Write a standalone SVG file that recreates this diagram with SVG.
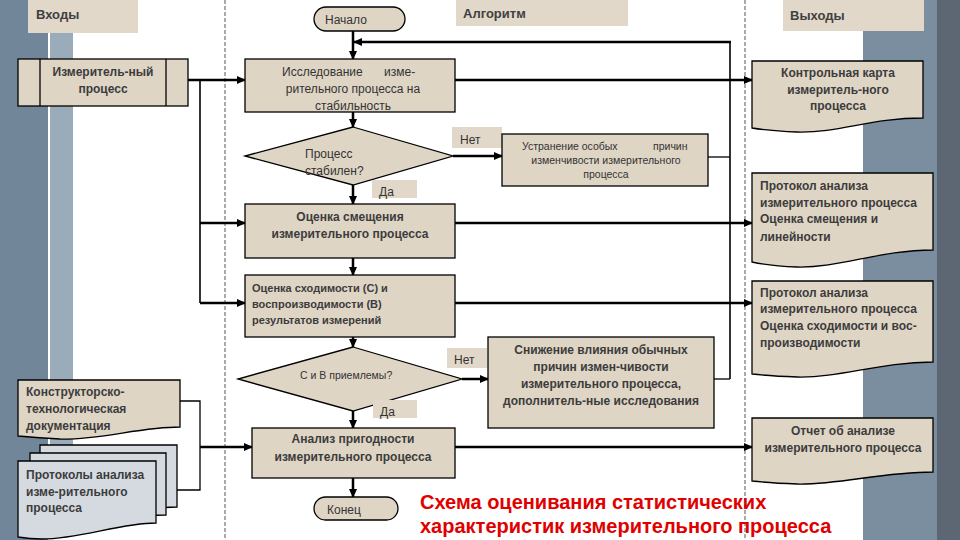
<svg xmlns="http://www.w3.org/2000/svg" width="960" height="540" viewBox="0 0 960 540">
<defs>
<marker id="ar" markerWidth="9" markerHeight="8" refX="8" refY="4" orient="auto" markerUnits="userSpaceOnUse">
<path d="M0,0 L9,4 L0,8 Z" fill="#000"/>
</marker>
<style>
.bx{fill:#dfd5c5;stroke:#000;stroke-width:1.3}
.doc2{fill:#d5dae1;stroke:#000;stroke-width:1.3}
.hd{fill:#e1d8c9}
.t{font-family:"Liberation Sans",Arial,sans-serif;font-size:12px;font-weight:bold;fill:#3c3c3c}
.n{font-weight:normal;fill:#333}
.ts{font-family:"Liberation Sans",Arial,sans-serif;font-size:10.5px;fill:#333}
.th{font-family:"Liberation Sans",Arial,sans-serif;font-size:13px;font-weight:bold;fill:#404040}
.c{text-anchor:middle}
.k{fill:none;stroke:#000;stroke-width:2.5}
.k1{fill:none;stroke:#000;stroke-width:1.3}
.a{marker-end:url(#ar)}
.dash{stroke:#555;stroke-width:1;stroke-dasharray:4 2}
.red{font-family:"Liberation Sans",Arial,sans-serif;font-size:20px;font-weight:bold;fill:#e00000}
</style>
</defs>
<rect width="960" height="540" fill="#fff"/>
<g id="background">
<rect x="0" y="0" width="48" height="540" fill="#718698"/>
<rect x="50" y="33" width="23" height="412" fill="#9aabb9"/>
<rect x="863" y="30" width="74" height="510" fill="#7a8ea0"/>
<rect x="923" y="0" width="14" height="30" fill="#7a8ea0"/>
<rect x="937" y="0" width="23" height="540" fill="#5d6673"/>
<line class="dash" x1="225" y1="0" x2="225" y2="540"/>
<line class="dash" x1="745" y1="0" x2="745" y2="540"/>
</g>
<g id="headers">
<rect class="hd" x="28" y="0" width="110" height="33"/>
<text class="th" x="36" y="19">Входы</text>
<rect class="hd" x="456" y="0" width="172" height="26"/>
<text class="th" x="463" y="18">Алгоритм</text>
<rect class="hd" x="783" y="0" width="141" height="31"/>
<text class="th" x="790" y="20">Выходы</text>
</g>
<g id="connectors">
<path class="k a" d="M353,31 V59"/>
<path class="k1" d="M708,157 H730"/>
<path class="k1" d="M714,379 H730"/>
<path class="k1" d="M730,379 V42" style="stroke-width:1.6"/>
<path class="k a" d="M731,42 H354"/>
<path class="k a" d="M188,80 H245"/>
<path class="k1" d="M200,80 V303" style="stroke-width:1.6"/>
<path class="k a" d="M200,223 H245"/>
<path class="k a" d="M200,303 H245"/>
<path class="k a" d="M455,80 H752"/>
<path class="k a" d="M353,112 V127"/>
<path class="k a" d="M453,156 H502"/>
<path class="k a" d="M353,185 V204"/>
<path class="k a" d="M455,223 H752"/>
<path class="k a" d="M353,258 V275"/>
<path class="k a" d="M455,303 H752"/>
<path class="k a" d="M353,337 V347"/>
<path class="k a" d="M462,379 H488"/>
<path class="k a" d="M353,411 V428"/>
<path class="k a" d="M455,447 H752"/>
<path class="k a" d="M353,478 V497"/>
<path class="k1" d="M180,401 H200 V490 H177"/>
<path class="k a" d="M200,447 H252"/>
</g>
<g id="start">
<rect class="bx" x="314" y="7" width="91" height="24" rx="12"/>
<text class="t n" x="325" y="24">Начало</text>
</g>
<g id="input-process">
<rect class="bx" x="18" y="59" width="170" height="47"/>
<line class="k1" x1="40" y1="59" x2="40" y2="106"/>
<line class="k1" x1="166" y1="59" x2="166" y2="106"/>
<text class="t c" x="103" y="76">Измеритель-ный</text>
<text class="t c" x="103" y="93">процесс</text>
</g>
<g id="study">
<rect class="bx" x="245" y="59" width="210" height="53"/>
<text class="t n" x="282" y="76">Исследование</text>
<text class="t n" x="384" y="76">изме-</text>
<text class="t n c" x="353" y="93">рительного процесса на</text>
<text class="t n c" x="353" y="110">стабильность</text>
</g>
<g id="decision1">
<polygon class="bx" points="353,127 453,156 353,185 245,156"/>
<text class="t n" x="305" y="158">Процесс</text>
<text class="t n" x="305" y="175">стабилен?</text>
</g>
<g id="label-no1">
<rect class="hd" x="452" y="127" width="50" height="21"/>
<text class="t n" x="460" y="144">Нет</text>
</g>
<g id="label-yes1">
<rect class="hd" x="372" y="180" width="45" height="18"/>
<text class="t n" x="379" y="196">Да</text>
</g>
<g id="eliminate">
<rect class="bx" x="502" y="134" width="206" height="52"/>
<text class="ts" x="522" y="150">Устранение особых</text>
<text class="ts" x="653" y="150">причин</text>
<text class="ts c" x="606" y="164">изменчивости измерительного</text>
<text class="ts c" x="606" y="178">процесса</text>
</g>
<g id="bias">
<rect class="bx" x="245" y="204" width="210" height="54"/>
<text class="t c" x="350" y="221">Оценка смещения</text>
<text class="t c" x="350" y="238">измерительного процесса</text>
</g>
<g id="rr">
<rect class="bx" x="245" y="275" width="210" height="62"/>
<text class="t" x="252" y="292" style="font-size:11px">Оценка сходимости (С) и</text>
<text class="t" x="252" y="308" style="font-size:11px">воспроизводимости (В)</text>
<text class="t" x="252" y="324" style="font-size:11px">результатов измерений</text>
</g>
<g id="decision2">
<polygon class="bx" points="353,347 462,379 353,411 238,379"/>
<text class="ts" x="300" y="379">С и В приемлемы?</text>
</g>
<g id="label-no2">
<rect class="hd" x="447" y="348" width="40" height="20"/>
<text class="t n" x="454" y="364">Нет</text>
</g>
<g id="label-yes2">
<rect class="hd" x="373" y="400" width="44" height="18"/>
<text class="t n" x="380" y="416">Да</text>
</g>
<g id="reduce">
<rect class="bx" x="488" y="337" width="226" height="91"/>
<text class="t c" x="601" y="354">Снижение влияния обычных</text>
<text class="t c" x="601" y="371">причин измен-чивости</text>
<text class="t c" x="601" y="388">измерительного процесса,</text>
<text class="t c" x="601" y="405">дополнитель-ные исследования</text>
</g>
<g id="suitability">
<rect class="bx" x="252" y="428" width="203" height="50"/>
<text class="t c" x="353" y="443">Анализ пригодности</text>
<text class="t c" x="353" y="461">измерительного процесса</text>
</g>
<g id="end">
<rect class="bx" x="314" y="497" width="84" height="23" rx="11.5"/>
<text class="t n" x="327" y="514">Конец</text>
</g>
<g id="design-docs">
<path class="bx" d="M18,380 H180 V427 C140,427 100,440 60,439 Q40,438 18,436 Z"/>
<text class="t" x="26" y="396">Конструкторско-</text>
<text class="t" x="26" y="413">технологическая</text>
<text class="t" x="26" y="430">документация</text>
</g>
<g id="protocols">
<path class="doc2" d="M40,445 H177 V507 C140,507 100,520 62,519 Q50,519 40,517 Z"/>
<path class="doc2" d="M30,453 H166 V515 C130,515 90,528 52,527 Q40,527 30,525 Z"/>
<path class="doc2" d="M18,461 H156 V523 C120,523 80,539 42,539 Q30,539 18,537 Z"/>
<text class="t" x="26" y="479">Протоколы анализа</text>
<text class="t" x="26" y="496">изме-рительного</text>
<text class="t" x="26" y="512">процесса</text>
</g>
<g id="control-chart">
<path class="bx" d="M752,61 H923 V118 C870,118 840,133 797,132 Q770,131 752,128 Z"/>
<text class="t c" x="838" y="77">Контрольная карта</text>
<text class="t c" x="838" y="94">измеритель-ного</text>
<text class="t c" x="838" y="110">процесса</text>
</g>
<g id="protocol-bias">
<path class="bx" d="M752,173 H933 V250 C880,250 840,268 797,267 Q770,266 752,262 Z"/>
<text class="t" x="760" y="190">Протокол анализа</text>
<text class="t" x="760" y="207">измерительного процесса</text>
<text class="t" x="760" y="223">Оценка смещения и</text>
<text class="t" x="760" y="241">линейности</text>
</g>
<g id="protocol-rr">
<path class="bx" d="M752,281 H933 V362 C880,362 840,378 797,377 Q770,376 752,374 Z"/>
<text class="t" x="760" y="297">Протокол анализа</text>
<text class="t" x="760" y="313">измерительного процесса</text>
<text class="t" x="760" y="330">Оценка сходимости и вос-</text>
<text class="t" x="760" y="347">производимости</text>
</g>
<g id="report">
<path class="bx" d="M752,418 H933 V472 C880,472 840,485 797,484 Q770,483 752,481 Z"/>
<text class="t c" x="843" y="435">Отчет об анализе</text>
<text class="t c" x="843" y="452">измерительного процесса</text>
</g>
<g id="title">
<text class="red" x="420" y="509">Схема оценивания статистических</text>
<text class="red" x="420" y="533">характеристик измерительного процесса</text>
</g>
</svg>
